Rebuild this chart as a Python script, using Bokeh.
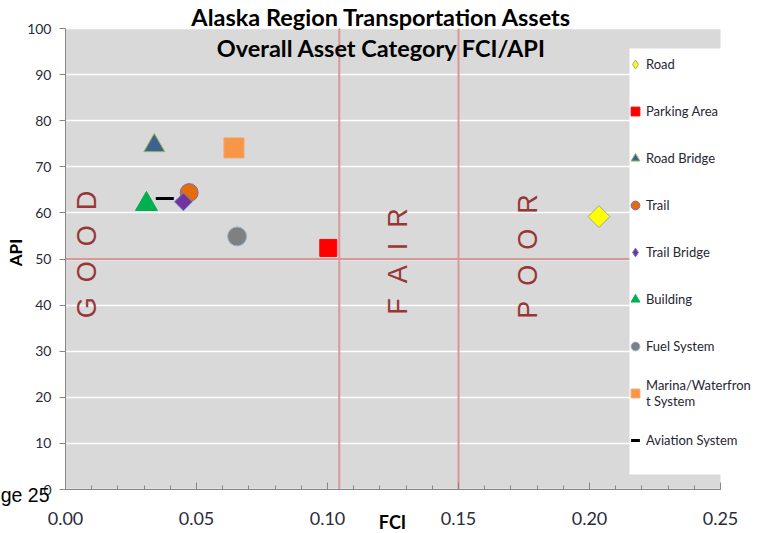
from bokeh.plotting import figure
from bokeh.models import (Range1d, Label, Legend, LegendItem, BoxAnnotation, FixedTicker)
from bokeh.embed import file_html
from bokeh.resources import INLINE
import math

# ---------------- data ----------------
title_lines = ["Alaska Region Transportation Assets", "Overall Asset Category FCI/API"]
categories = ["Road", "Parking Area", "Road Bridge", "Trail", "Trail Bridge",
              "Building", "Fuel System", "Marina/Waterfront System", "Aviation System"]
legend_labels = ["Road", "Parking Area", "Road Bridge", "Trail", "Trail Bridge",
                 "Building", "Fuel System", "Marina/Waterfron\nt System", "Aviation System"]
fci = [0.2036, 0.1003, 0.0339, 0.0472, 0.0450, 0.0309, 0.0655, 0.0643, 0.0379]
api = [59.2, 52.4, 74.6, 64.4, 62.4, 61.9, 54.9, 74.1, 63.1]
x_ticks = [0.0, 0.05, 0.10, 0.15, 0.20, 0.25]
x_minor_ticks = [i / 100 for i in range(26)]
y_ticks = [0, 10, 20, 30, 40, 50, 60, 70, 80, 90, 100]
fci_bounds = [0.0, 0.25]
api_bounds = [0, 100]
fci_thresholds = [0.1045, 0.15]
api_thresholds = [50]
zone_letters = [["G", "O", "O", "D"], ["F", "A", "I", "R"], ["P", "O", "O", "R"]]
x_title = "FCI"
y_title = "API"
page_note = "ge 25"

# ---------------- styles ----------------
markers = ["square", "square", "triangle", "circle", "square", "triangle", "circle", "square", "dash"]
legend_markers = ["diamond", "square", "triangle", "circle", "diamond", "triangle", "circle", "square", "dash"]
angles = [math.pi / 4, 0, 0, 0, math.pi / 4, 0, 0, 0, 0]
sizes = [15.5, 17, 21, 18, 12.5, 22, 19, 20, 18]
fills = ["#FFFF00", "#FF0000", "#3D6192", "#E46C0A", "#7232A0", "#00B050", "#808080", "#F79646", "#000000"]
lines = ["#9FA89F", "#FF0000", "#98B954", "#7F6BA8", "#6F7FC0", "#00B050", "#95B3D7", "#F6A46A", "#000000"]
lwidths = [1, 1, 1, 1, 1, 1, 1, 1, 3]

FONT = "Lato"
RED_LINE = "#D99795"
ZONE_COLOR = "#963736"
AXIS_GRAY = "#868686"
TICK_TEXT = "#2B2B3A"
NBSP2 = "\u00a0\u00a0"

# ---------------- layout (pixels of the 759x533 canvas) ----------------
W, H = 759, 533
PX_X0, PX_X1 = 65, 720      # pixel columns of FCI 0.00 and 0.25
PX_Y0, PX_Y1 = 489, 28      # pixel rows of API 0 and 100
sx = (fci_bounds[1] - fci_bounds[0]) / (PX_X1 - PX_X0)
sy = (api_bounds[1] - api_bounds[0]) / (PX_Y0 - PX_Y1)


def dx(px):
    return fci_bounds[0] + (px - PX_X0) * sx


def dy(py):
    return api_bounds[0] + (PX_Y0 - py) * sy


p = figure(width=W, height=H, output_backend="svg", toolbar_location=None,
           x_range=Range1d(dx(0), dx(W)), y_range=Range1d(dy(H), dy(0)),
           min_border=0, min_border_left=0, min_border_right=0,
           min_border_top=0, min_border_bottom=0,
           background_fill_color="white", border_fill_color="white")
p.outline_line_color = None

# grey plot area
p.add_layout(BoxAnnotation(left=fci_bounds[0], right=fci_bounds[1], bottom=api_bounds[0],
                           top=api_bounds[1], fill_color="#D9D9D9", fill_alpha=1.0,
                           line_color=None, level="image"))

# axes, fixed at the data origin
xa = p.xaxis[0]
ya = p.yaxis[0]
xa.fixed_location = api_bounds[0]
ya.fixed_location = fci_bounds[0]
xa.bounds = tuple(fci_bounds)
ya.bounds = tuple(api_bounds)

xa.ticker = FixedTicker(ticks=x_ticks, minor_ticks=x_minor_ticks)
xa.major_label_overrides = {t: f"{t:.2f}" for t in x_ticks}
xa.major_tick_in = 7
xa.major_tick_out = 0
xa.minor_tick_in = 4
xa.minor_tick_out = 0
xa.major_label_standoff = 22
xa.major_label_text_font = FONT
xa.major_label_text_font_size = "18px"
xa.major_label_text_color = TICK_TEXT

ya.ticker = FixedTicker(ticks=y_ticks)
ya.major_tick_in = 0
ya.major_tick_out = 6
ya.minor_tick_line_color = None
ya.major_label_standoff = 8
ya.major_label_text_font = FONT
ya.major_label_text_font_size = "14px"
ya.major_label_text_color = TICK_TEXT

for ax in (xa, ya):
    ax.axis_line_color = AXIS_GRAY
    ax.major_tick_line_color = AXIS_GRAY
xa.minor_tick_line_color = AXIS_GRAY

p.xgrid.grid_line_color = None
p.ygrid.ticker = FixedTicker(ticks=y_ticks)
p.ygrid.grid_line_color = "white"
p.ygrid.grid_line_width = 1.5

# threshold lines
p.segment(x0=fci_thresholds, y0=[api_bounds[0]] * len(fci_thresholds),
          x1=fci_thresholds, y1=[api_bounds[1]] * len(fci_thresholds),
          line_color=RED_LINE, line_width=2)
p.segment(x0=[fci_bounds[0]] * len(api_thresholds), y0=api_thresholds,
          x1=[fci_bounds[1]] * len(api_thresholds), y1=api_thresholds,
          line_color=RED_LINE, line_width=2)

# zone texts (rotated)
zone_px = [(86, 254), (397, 261), (527, 256)]
for letters, (zx, zy) in zip(zone_letters, zone_px):
    p.add_layout(Label(x=dx(zx), y=dy(zy), text=NBSP2.join(letters), angle=math.pi / 2,
                       text_align="center", text_baseline="middle",
                       text_font="Liberation Sans", text_font_size="27px",
                       text_color=ZONE_COLOR))

# points (legend proxies first, hidden beneath the real markers)
renderers = []
for i in range(len(categories)):
    proxy = None
    if legend_markers[i] != markers[i]:
        proxy = p.scatter(x=[fci[i]], y=[api[i]], marker=legend_markers[i], size=sizes[i] * 0.9,
                          fill_color=fills[i], line_color=lines[i], line_width=lwidths[i])
    r = p.scatter(x=[fci[i]], y=[api[i]], marker=markers[i], size=sizes[i], angle=angles[i],
                  fill_color=fills[i], line_color=lines[i], line_width=lwidths[i])
    renderers.append(proxy if proxy is not None else r)

# legend box
p.add_layout(BoxAnnotation(left=dx(629), bottom=dy(474), top=dy(48), fill_color="white",
                           fill_alpha=1.0, line_color=None, level="annotation"))
legend = Legend(items=[LegendItem(label=legend_labels[i], renderers=[renderers[i]])
                       for i in range(len(categories))],
                location=(624, 76), padding=0, spacing=13, glyph_width=22, glyph_height=34,
                label_height=20, label_standoff=0, label_text_font=FONT,
                label_text_font_size="13px", label_text_line_height=1.3,
                label_text_color="#262633",
                background_fill_alpha=0, border_line_color=None)
p.add_layout(legend)

# titles
for line, mid in zip(title_lines, [16.5, 47.5]):
    p.add_layout(Label(x=dx(381), y=dy(mid), text=line, text_align="center",
                       text_baseline="middle", text_font=FONT, text_font_style="bold",
                       text_font_size="23.5px", text_color="black"))
# axis titles
p.add_layout(Label(x=dx(392), y=dy(521), text=x_title, text_align="center",
                   text_baseline="middle", text_font=FONT, text_font_style="bold",
                   text_font_size="18px", text_color="black"))
p.add_layout(Label(x=dx(15), y=dy(252), text=y_title, angle=math.pi / 2, text_align="center",
                   text_baseline="middle", text_font=FONT, text_font_style="bold",
                   text_font_size="17px", text_color="black"))
# page artifact text
p.add_layout(Label(x=dx(49), y=dy(494), text=page_note, text_align="right",
                   text_baseline="middle", text_font="Liberation Sans",
                   text_font_size="19.5px", text_color="black"))

open("out.html", "w").write(file_html(p, INLINE))
